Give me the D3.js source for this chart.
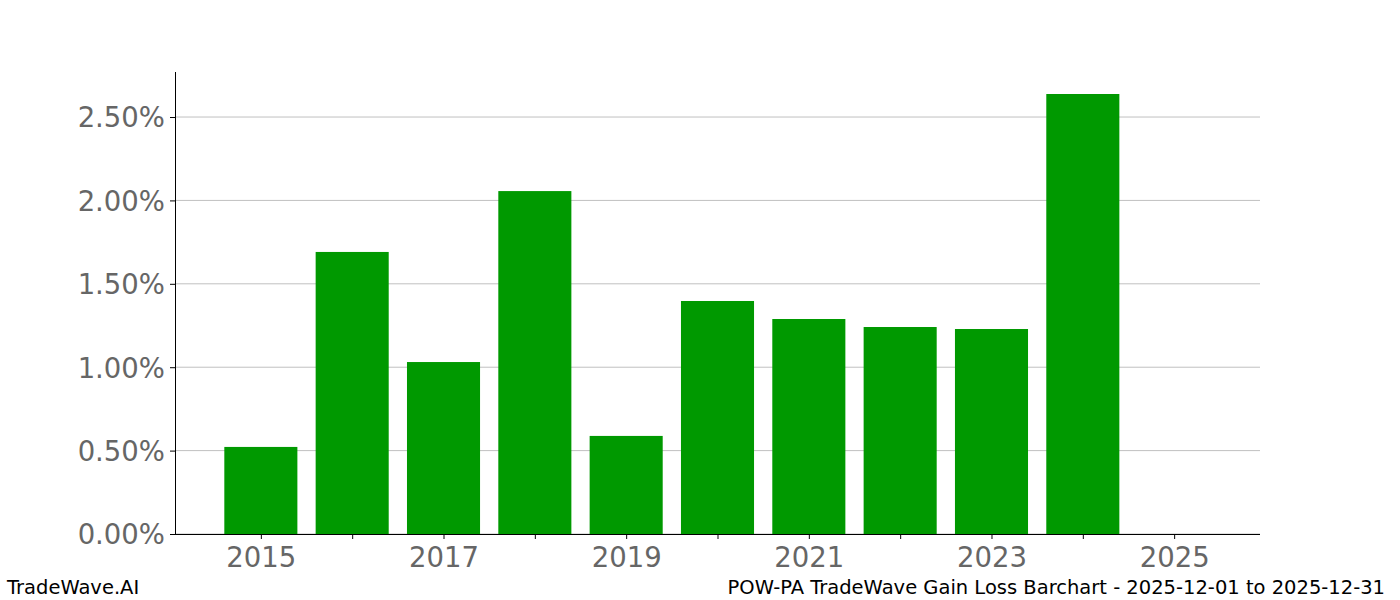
<!DOCTYPE html>
<html>
<head>
<meta charset="utf-8">
<script src="https://cdn.jsdelivr.net/npm/d3@7"></script>
<style>
  body { margin: 0; background: #fff; }
  text { font-family: "DejaVu Sans", sans-serif; }
</style>
</head>
<body>
<script>
var years = [2015, 2016, 2017, 2018, 2019, 2020, 2021, 2022, 2023, 2024, 2025];
var gains = [0.522, 1.691, 1.031, 2.056, 0.588, 1.397, 1.289, 1.241, 1.229, 2.638, 0];
var yTicks = [0, 0.5, 1.0, 1.5, 2.0, 2.5];
var xTickLabels = [2015, 2017, 2019, 2021, 2023, 2025];

var width = 1400;
var height = 600;
var plotLeft = 175, plotRight = 1260, plotTop = 72, plotBottom = 534;

var svg = d3.select("body")
            .append("svg")
            .attr("width", width)
            .attr("height", height);

// matplotlib-like margins: bars are 0.8 wide, 5% padding
var lo = years[0] - 0.4, hi = years[years.length - 1] + 0.4;
var pad = (hi - lo) * 0.05;
var xScale = d3.scaleLinear()
               .domain([lo - pad, hi + pad])
               .range([plotLeft, plotRight]);

var yMax = d3.max(gains) * 1.05;
var yScale = d3.scaleLinear()
               .domain([0, yMax])
               .range([plotBottom, plotTop]);

// grid
svg.selectAll(".grid")
   .data(yTicks)
   .enter()
   .append("line")
   .attr("class", "grid")
   .attr("x1", plotLeft)
   .attr("x2", plotRight)
   .attr("y1", function(d){ return yScale(d); })
   .attr("y2", function(d){ return yScale(d); })
   .attr("stroke", "#c0c0c0")
   .attr("stroke-width", 1);

// bars
svg.selectAll(".bar")
   .data(gains)
   .enter()
   .append("rect")
   .attr("class", "bar")
   .attr("x", function(d, i){ return xScale(years[i] - 0.4); })
   .attr("y", function(d){ return yScale(d); })
   .attr("width", function(d, i){ return xScale(years[i] + 0.4) - xScale(years[i] - 0.4); })
   .attr("height", function(d){ return plotBottom - yScale(d); })
   .attr("fill", "#009900");

// y axis
var yAxis = d3.axisLeft(yScale)
              .tickValues(yTicks)
              .tickSize(5)
              .tickPadding(5)
              .tickFormat(function(d){ return d.toFixed(2) + "%"; });

var gy = svg.append("g")
            .attr("transform", "translate(" + plotLeft + ",0)")
            .call(yAxis);
gy.select(".domain").attr("d", "M0.5," + plotTop + "V" + plotBottom).attr("stroke", "#000");

// x axis
var xAxis = d3.axisBottom(xScale)
              .tickValues(years)
              .tickSize(5)
              .tickPadding(7)
              .tickFormat(function(d){ return xTickLabels.indexOf(d) >= 0 ? d : ""; });

var gx = svg.append("g")
            .attr("transform", "translate(0," + plotBottom + ")")
            .call(xAxis);
gx.select(".domain").attr("d", "M" + plotLeft + ",0.5H" + plotRight).attr("stroke", "#000");

svg.selectAll(".tick line").attr("stroke", "#000");
svg.selectAll(".tick text")
   .attr("fill", "#666")
   .style("font-size", "27.5px")
   .style("font-family", "DejaVu Sans, sans-serif");
gy.selectAll(".tick text").attr("dy", "0.36em");
gx.selectAll(".tick text").attr("dy", "0.75em");

// footer
svg.append("text")
   .attr("x", 7)
   .attr("y", 594)
   .style("font-size", "19.5px")
   .attr("fill", "#000")
   .text("TradeWave.AI");

svg.append("text")
   .attr("x", 1385)
   .attr("y", 594)
   .attr("text-anchor", "end")
   .style("font-size", "19.5px")
   .attr("fill", "#000")
   .text("POW-PA TradeWave Gain Loss Barchart - 2025-12-01 to 2025-12-31");
</script>
</body>
</html>
